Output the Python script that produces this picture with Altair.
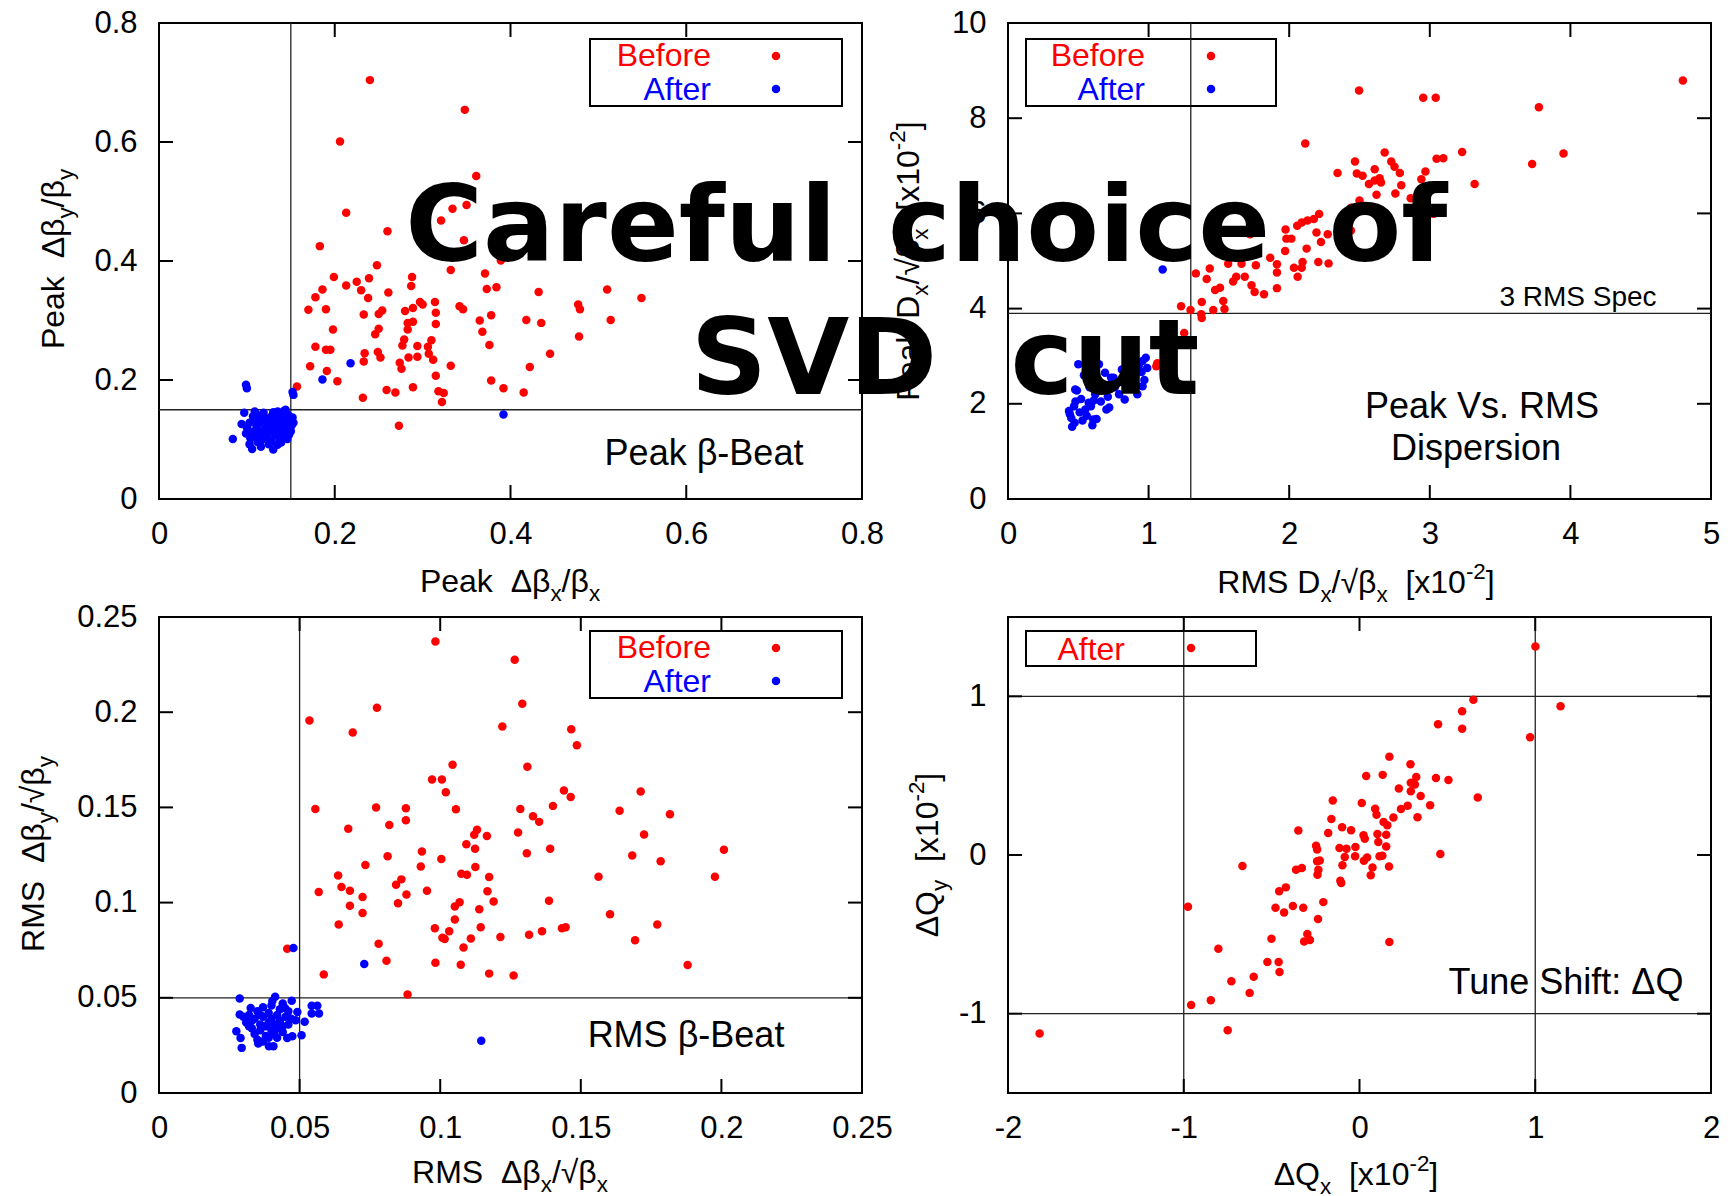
import altair as alt
import pandas as pd

FONT = "Liberation Sans"
HEAVY_FONT = "DejaVu Sans"
RED = "#ff0000"
BLUE = "#0000ff"
W, H = 703, 476          # plot area of each panel
TICK_LEN = 14            # inward tick length (px)
DOT = 72                 # marker area (px^2)

# ---------------- Panel 1: peak beta-beat ----------------
p1_xticks = [0, 0.2, 0.4, 0.6, 0.8]
p1_yticks = [0, 0.2, 0.4, 0.6, 0.8]
p1_before = [
    (0.240, 0.704), (0.348, 0.654), (0.206, 0.601), (0.361, 0.543), (0.213, 0.481),
    (0.350, 0.494), (0.334, 0.488), (0.321, 0.468), (0.260, 0.450), (0.347, 0.435),
    (0.183, 0.425), (0.248, 0.393), (0.389, 0.401), (0.332, 0.385), (0.199, 0.373),
    (0.239, 0.371), (0.288, 0.373), (0.225, 0.365), (0.213, 0.359), (0.287, 0.358),
    (0.371, 0.379), (0.230, 0.351), (0.186, 0.352), (0.261, 0.347), (0.373, 0.353),
    (0.384, 0.356), (0.178, 0.339), (0.238, 0.338), (0.297, 0.331), (0.300, 0.327),
    (0.314, 0.331), (0.170, 0.318), (0.190, 0.319), (0.289, 0.321), (0.280, 0.316),
    (0.233, 0.310), (0.250, 0.311), (0.254, 0.317), (0.342, 0.324), (0.346, 0.319),
    (0.315, 0.313), (0.378, 0.309), (0.365, 0.300), (0.315, 0.294), (0.289, 0.298),
    (0.283, 0.296), (0.283, 0.285), (0.198, 0.285), (0.250, 0.286), (0.246, 0.277),
    (0.368, 0.281), (0.279, 0.268), (0.310, 0.267), (0.277, 0.258), (0.178, 0.256),
    (0.190, 0.251), (0.195, 0.251), (0.294, 0.257), (0.306, 0.256), (0.376, 0.259),
    (0.234, 0.245), (0.249, 0.247), (0.307, 0.244), (0.252, 0.238), (0.284, 0.238),
    (0.294, 0.239), (0.312, 0.234), (0.233, 0.231), (0.274, 0.229), (0.172, 0.223),
    (0.332, 0.224), (0.276, 0.219), (0.191, 0.215), (0.315, 0.207), (0.203, 0.198),
    (0.378, 0.199), (0.157, 0.189), (0.289, 0.188), (0.392, 0.186), (0.259, 0.183),
    (0.269, 0.179), (0.318, 0.181), (0.324, 0.178), (0.322, 0.163), (0.232, 0.170),
    (0.273, 0.123), (0.323, 0.415), (0.415, 0.179), (0.422, 0.222), (0.445, 0.244),
    (0.478, 0.273), (0.418, 0.301), (0.435, 0.296), (0.514, 0.301), (0.432, 0.348),
    (0.477, 0.327), (0.479, 0.319), (0.510, 0.352), (0.549, 0.338),
]
p1_after = [
    (0.084, 0.101), (0.099, 0.192), (0.100, 0.186), (0.152, 0.180), (0.153, 0.175),
    (0.186, 0.201), (0.218, 0.228), (0.392, 0.142), (0.097, 0.145), (0.094, 0.126),
    (0.106, 0.084), (0.130, 0.083), (0.135, 0.091), (0.103, 0.092), (0.118, 0.142),
    (0.148, 0.108), (0.151, 0.131), (0.142, 0.148), (0.135, 0.147), (0.107, 0.139),
    (0.100, 0.120), (0.103, 0.128), (0.105, 0.113), (0.108, 0.133), (0.110, 0.105),
    (0.111, 0.122), (0.113, 0.116), (0.115, 0.128), (0.117, 0.099), (0.118, 0.110),
    (0.120, 0.134), (0.121, 0.119), (0.123, 0.104), (0.124, 0.126), (0.126, 0.113),
    (0.127, 0.138), (0.128, 0.097), (0.129, 0.121), (0.131, 0.130), (0.132, 0.108),
    (0.133, 0.142), (0.134, 0.117), (0.136, 0.125), (0.137, 0.101), (0.138, 0.134),
    (0.139, 0.112), (0.140, 0.144), (0.141, 0.120), (0.142, 0.129), (0.143, 0.106),
    (0.144, 0.137), (0.145, 0.116), (0.146, 0.126), (0.147, 0.141), (0.148, 0.121),
    (0.149, 0.133), (0.150, 0.114), (0.151, 0.124), (0.152, 0.137), (0.099, 0.110),
    (0.104, 0.102), (0.112, 0.096), (0.116, 0.088), (0.125, 0.092), (0.119, 0.145),
    (0.113, 0.140), (0.109, 0.147), (0.146, 0.101), (0.139, 0.095), (0.153, 0.128),
    (0.144, 0.150), (0.130, 0.146),
]

# ---------------- Panel 2: peak vs. RMS dispersion ----------------
p2_xticks = [0, 1, 2, 3, 4, 5]
p2_yticks = [0, 2, 4, 6, 8, 10]
p2_before = [
    (4.80, 8.79), (2.497, 8.58), (2.953, 8.43), (3.042, 8.43), (3.776, 8.23),
    (2.114, 7.47), (2.679, 7.28), (3.230, 7.29), (3.951, 7.26), (3.048, 7.15),
    (3.096, 7.16), (2.468, 7.09), (2.726, 7.09), (2.749, 6.98), (3.728, 7.04),
    (2.608, 6.93), (2.969, 6.88), (2.344, 6.85), (2.481, 6.84), (2.522, 6.79),
    (2.787, 6.85), (2.643, 6.74), (2.608, 6.69), (2.940, 6.72), (2.567, 6.62),
    (2.653, 6.65), (2.797, 6.59), (3.319, 6.62), (2.755, 6.42), (2.621, 6.39),
    (2.500, 6.27), (2.864, 6.32), (3.026, 5.99), (2.417, 5.78), (2.439, 5.64),
    (2.213, 5.99), (2.175, 5.88), (2.130, 5.85), (2.089, 5.81), (2.057, 5.74),
    (1.974, 5.66), (1.722, 5.56), (2.194, 5.60), (2.274, 5.56), (1.980, 5.47),
    (2.015, 5.47), (2.226, 5.40), (1.865, 5.07), (2.124, 5.26), (1.971, 5.21),
    (1.763, 4.91), (1.913, 4.93), (1.913, 4.76), (2.095, 4.98), (2.089, 4.86),
    (2.060, 4.67), (2.207, 4.98), (2.280, 4.95), (2.034, 4.86), (1.661, 4.94),
    (1.566, 4.94), (1.623, 4.67), (1.684, 4.67), (1.435, 4.84), (1.336, 4.74),
    (1.413, 4.62), (1.732, 4.49), (1.754, 4.35), (1.821, 4.30), (1.913, 4.43),
    (1.601, 4.57), (1.508, 4.44), (1.473, 4.39), (1.378, 4.14), (1.531, 4.16),
    (1.460, 3.97), (1.540, 3.99), (1.231, 4.05), (1.298, 3.97), (1.374, 3.88),
    (1.378, 3.80), (1.253, 3.49), (1.062, 2.85), (1.055, 2.79), (2.440, 6.12),
]
p2_after = [
    (1.100, 4.82), (0.456, 1.52), (0.474, 1.60), (0.500, 2.83), (0.647, 2.83),
    (0.434, 1.85), (0.606, 1.67), (0.700, 1.88), (0.830, 2.09), (0.957, 2.37),
    (0.957, 2.90), (0.980, 2.97), (0.877, 2.55), (0.733, 2.55), (0.478, 2.30),
    (0.574, 2.02), (0.845, 2.72), (0.810, 2.72), (0.750, 2.55), (0.610, 2.07),
    (0.490, 2.28), (0.580, 2.35), (0.880, 2.51), (0.950, 2.67), (0.720, 1.92),
    (0.630, 1.68), (0.510, 1.82), (0.450, 1.70), (0.470, 1.95), (0.520, 2.10),
    (0.550, 1.88), (0.560, 1.75), (0.590, 1.95), (0.620, 2.20), (0.660, 2.05),
    (0.680, 2.30), (0.710, 2.15), (0.760, 2.35), (0.790, 2.20), (0.820, 2.45),
    (0.860, 2.35), (0.900, 2.60), (0.930, 2.80), (0.970, 2.50), (0.990, 2.75),
    (0.530, 1.65), (0.480, 2.05), (0.440, 1.78), (0.570, 2.45), (0.640, 2.50),
    (0.690, 2.65), (0.920, 2.20), (0.850, 2.85), (0.540, 2.60), (0.600, 1.55),
]

# ---------------- Panel 3: RMS beta-beat ----------------
p3_xticks = [0, 0.05, 0.1, 0.15, 0.2, 0.25]
p3_yticks = [0, 0.05, 0.1, 0.15, 0.2, 0.25]
p3_before = [
    (0.0983, 0.2371), (0.1265, 0.2275), (0.1292, 0.2045), (0.0775, 0.2023), (0.0535, 0.1957),
    (0.0689, 0.1893), (0.1221, 0.1925), (0.1466, 0.1911), (0.1486, 0.1826), (0.1044, 0.1724),
    (0.1310, 0.1714), (0.0971, 0.1647), (0.1006, 0.1647), (0.1020, 0.1579), (0.1440, 0.1589),
    (0.1464, 0.1555), (0.1713, 0.1583), (0.0556, 0.1492), (0.0772, 0.1500), (0.0878, 0.1496),
    (0.1056, 0.1490), (0.1285, 0.1492), (0.1401, 0.1508), (0.1638, 0.1482), (0.1817, 0.1464),
    (0.0878, 0.1432), (0.1330, 0.1454), (0.1352, 0.1424), (0.0673, 0.1388), (0.0819, 0.1408),
    (0.1131, 0.1382), (0.1121, 0.1356), (0.1166, 0.1350), (0.1277, 0.1368), (0.1725, 0.1358),
    (0.1093, 0.1307), (0.1124, 0.1283), (0.1391, 0.1283), (0.2009, 0.1277), (0.0935, 0.1269),
    (0.0813, 0.1243), (0.1004, 0.1229), (0.1308, 0.1259), (0.1683, 0.1247), (0.1784, 0.1217),
    (0.0734, 0.1197), (0.0931, 0.1189), (0.1125, 0.1187), (0.1075, 0.1152), (0.1095, 0.1146),
    (0.1174, 0.1134), (0.0637, 0.1142), (0.1563, 0.1136), (0.1977, 0.1136), (0.0862, 0.1122),
    (0.0843, 0.1094), (0.0649, 0.1082), (0.0568, 0.1056), (0.0679, 0.1062), (0.0953, 0.1062),
    (0.0880, 0.1042), (0.1168, 0.1060), (0.0724, 0.1030), (0.1190, 0.1006), (0.1387, 0.1010),
    (0.0850, 0.0996), (0.0679, 0.0983), (0.1069, 0.1002), (0.1052, 0.0980), (0.1139, 0.0965),
    (0.0724, 0.0945), (0.1604, 0.0939), (0.1052, 0.0911), (0.1772, 0.0885), (0.0639, 0.0885),
    (0.0981, 0.0865), (0.1144, 0.0871), (0.1446, 0.0871), (0.1433, 0.0865), (0.1362, 0.0849),
    (0.1316, 0.0831), (0.1032, 0.0849), (0.1008, 0.0815), (0.1016, 0.0809), (0.1109, 0.0811),
    (0.1214, 0.0819), (0.1693, 0.0802), (0.0781, 0.0784), (0.1083, 0.0764), (0.0456, 0.0758),
    (0.0809, 0.0694), (0.0983, 0.0684), (0.1073, 0.0674), (0.1880, 0.0672), (0.0586, 0.0623),
    (0.1174, 0.0627), (0.1261, 0.0617), (0.0884, 0.0517),
]
p3_after = [
    (0.0478, 0.0762), (0.0730, 0.0678), (0.1146, 0.0274), (0.0287, 0.0496), (0.0413, 0.0505),
    (0.0403, 0.0483), (0.0472, 0.0484), (0.0448, 0.0447), (0.0492, 0.0426), (0.0543, 0.0458),
    (0.0563, 0.0458), (0.0543, 0.0417), (0.0569, 0.0417), (0.0518, 0.0374), (0.0507, 0.0303),
    (0.0474, 0.0298), (0.0456, 0.0289), (0.0275, 0.0324), (0.0290, 0.0289), (0.0294, 0.0237),
    (0.0353, 0.0260), (0.0391, 0.0246), (0.0407, 0.0246), (0.0326, 0.0447), (0.0287, 0.0412),
    (0.0486, 0.0382), (0.0310, 0.0370), (0.0320, 0.0410), (0.0330, 0.0340), (0.0340, 0.0390),
    (0.0340, 0.0310), (0.0350, 0.0430), (0.0360, 0.0360), (0.0360, 0.0330), (0.0370, 0.0400),
    (0.0380, 0.0350), (0.0380, 0.0300), (0.0390, 0.0420), (0.0390, 0.0370), (0.0400, 0.0330),
    (0.0400, 0.0390), (0.0410, 0.0360), (0.0410, 0.0310), (0.0420, 0.0410), (0.0420, 0.0340),
    (0.0430, 0.0380), (0.0430, 0.0440), (0.0440, 0.0350), (0.0440, 0.0320), (0.0450, 0.0400),
    (0.0460, 0.0360), (0.0350, 0.0280), (0.0370, 0.0270), (0.0330, 0.0380), (0.0300, 0.0400),
    (0.0470, 0.0390), (0.0460, 0.0430), (0.0370, 0.0450), (0.0400, 0.0460), (0.0440, 0.0470),
    (0.0320, 0.0350), (0.0360, 0.0410), (0.0390, 0.0290), (0.0420, 0.0290),
]

# ---------------- Panel 4: tune shift ----------------
p4_xticks = [-2, -1, 0, 1, 2]
p4_yticks = [-1, 0, 1]
p4_after = [
    (1.001, 1.314), (0.648, 0.978), (1.144, 0.938), (0.584, 0.906), (0.447, 0.824),
    (0.584, 0.795), (0.971, 0.742), (0.170, 0.620), (0.290, 0.572), (0.038, 0.498),
    (0.132, 0.505), (0.323, 0.492), (0.435, 0.486), (0.506, 0.473), (0.292, 0.456),
    (0.315, 0.444), (0.224, 0.419), (0.292, 0.402), (0.348, 0.372), (0.673, 0.362),
    (-0.152, 0.343), (0.013, 0.328), (0.402, 0.313), (0.274, 0.311), (0.236, 0.290),
    (0.089, 0.292), (0.097, 0.254), (0.193, 0.236), (0.330, 0.238), (-0.160, 0.227),
    (0.137, 0.208), (0.158, 0.187), (-0.099, 0.175), (-0.048, 0.156), (-0.348, 0.154),
    (-0.178, 0.139), (0.023, 0.124), (0.030, 0.103), (0.102, 0.132), (0.152, 0.128),
    (0.107, 0.082), (-0.247, 0.059), (-0.241, 0.034), (-0.114, 0.044), (-0.074, 0.040),
    (-0.023, 0.050), (0.152, 0.053), (-0.084, -0.013), (-0.025, -0.008), (0.043, -0.015),
    (0.025, -0.036), (0.114, -0.008), (0.130, -0.004), (-0.241, -0.040), (-0.226, -0.034),
    (-0.239, -0.124), (-0.234, -0.093), (-0.097, -0.065), (0.074, -0.078), (0.168, -0.072),
    (0.064, -0.128), (-0.361, -0.093), (-0.328, -0.082), (0.460, 0.006), (-0.666, -0.069),
    (-0.109, -0.162), (-0.104, -0.177), (-0.419, -0.204), (-0.457, -0.229), (-0.206, -0.297),
    (-0.976, -0.326), (-0.478, -0.332), (-0.379, -0.322), (-0.320, -0.332), (-0.429, -0.362),
    (-0.236, -0.404), (-0.297, -0.498), (-0.315, -0.545), (-0.282, -0.536), (0.170, -0.549),
    (-0.501, -0.528), (-0.803, -0.591), (-0.524, -0.675), (-0.460, -0.675), (-0.455, -0.738),
    (-0.602, -0.768), (-0.729, -0.795), (-0.625, -0.869), (-0.846, -0.915), (-0.958, -0.946),
    (-0.750, -1.104), (-1.820, -1.125),
]

# Approximate advance widths (em) of Liberation Sans, used to lay out
# axis titles that mix normal text with sub/superscripts.
NBSP = "\u00a0"
ADV = {
    "P": .667, "e": .556, "a": .556, "k": .5, " ": .278, NBSP: .278, "Δ": .667,
    "β": .575, "x": .5, "y": .5, "/": .278, "R": .722, "M": .833, "S": .667,
    "D": .722, "√": .549, "[": .278, "]": .278, "1": .556, "0": .556, "-": .333,
    "2": .556, "Q": .778,
}


def run_width(txt, fs):
    return sum(ADV.get(c, 0.55) for c in txt) * fs


def title_rows(parts, cx, cy, size, rotated):
    """Place the pieces of a title; (cx, cy) = centre along the baseline."""
    items, pos = [], 0.0
    for txt, kind in parts:
        fs = size * (0.7 if kind != "n" else 1.0)
        shift = {"n": 0.0, "sub": 0.28 * size, "sup": -0.45 * size}[kind]
        body = txt.strip(" ")
        lead = len(txt) - len(txt.lstrip(" "))
        trail = len(txt) - len(txt.rstrip(" "))
        pos += run_width(" " * lead, fs)          # leading gap, no glyphs drawn
        body = body.replace(" ", NBSP)              # keep inner runs of spaces
        items.append((body, fs, pos, shift))
        pos += run_width(body, fs) + run_width(" " * trail, fs)
    start = -pos / 2
    rows = []
    for txt, fs, p, sh in items:
        if rotated:
            rows.append({"t": txt, "px": cx + sh, "py": cy - (start + p), "fs": fs, "ang": 270})
        else:
            rows.append({"t": txt, "px": cx + start + p, "py": cy + sh, "fs": fs, "ang": 0})
    return rows


def to_df(pairs):
    return pd.DataFrame(pairs, columns=["x", "y"])


ONE = pd.DataFrame({"k": [0]})
TITLE_FS = 32


def make_panel(xdom, ydom, xticks, yticks, vlines, hlines, series, legend,
               notes, xtitle, ytitle, extra=()):
    xs = alt.Scale(domain=xdom, nice=False, zero=False)
    ys = alt.Scale(domain=ydom, nice=False, zero=False)
    xax = alt.Axis(values=xticks, labelExpr="'' + datum.value", title=None)
    yax = alt.Axis(values=yticks, labelExpr="'' + datum.value", title=None)

    def X(f):
        return alt.X(f, type="quantitative", scale=xs, axis=xax)

    def Y(f):
        return alt.Y(f, type="quantitative", scale=ys, axis=yax)

    layers = []
    # reference lines
    layers.append(alt.Chart(pd.DataFrame({"v": vlines})).mark_rule(
        color="#222222", strokeWidth=1.3).encode(x=X("v"), y=alt.value(0), y2=alt.value(H)))
    layers.append(alt.Chart(pd.DataFrame({"h": hlines})).mark_rule(
        color="#222222", strokeWidth=1.3).encode(y=Y("h"), x=alt.value(0), x2=alt.value(W)))
    # data
    for pairs, color in series:
        layers.append(alt.Chart(to_df(pairs)).mark_circle(
            size=DOT, opacity=1, color=color).encode(x=X("x"), y=Y("y")))
    # inward ticks on all four sides
    xt = pd.DataFrame({"t": xticks})
    yt = pd.DataFrame({"t": yticks})
    tick = dict(color="black", strokeWidth=2)
    layers.append(alt.Chart(xt).mark_rule(**tick).encode(
        x=X("t"), y=alt.value(H - TICK_LEN), y2=alt.value(H)))
    layers.append(alt.Chart(xt).mark_rule(**tick).encode(
        x=X("t"), y=alt.value(0), y2=alt.value(TICK_LEN)))
    layers.append(alt.Chart(yt).mark_rule(**tick).encode(
        y=Y("t"), x=alt.value(0), x2=alt.value(TICK_LEN)))
    layers.append(alt.Chart(yt).mark_rule(**tick).encode(
        y=Y("t"), x=alt.value(W - TICK_LEN), x2=alt.value(W)))
    # key box
    (bx1, by1, bx2, by2), text_right, marker_x, entries = legend
    layers.append(alt.Chart(ONE).mark_rect(
        fillOpacity=0, stroke="black", strokeWidth=2).encode(
        x=alt.value(bx1), x2=alt.value(bx2), y=alt.value(by1), y2=alt.value(by2)))
    for label, color, ty, my in entries:
        layers.append(alt.Chart(ONE).mark_text(
            font=FONT, fontSize=32, align="right", baseline="alphabetic", color=color).encode(
            x=alt.value(text_right), y=alt.value(ty), text=alt.value(label)))
        layers.append(alt.Chart(ONE).mark_circle(size=DOT, opacity=1, color=color).encode(
            x=alt.value(marker_x), y=alt.value(my)))
    # in-plot notes
    for txt, cx, by, fs in notes:
        layers.append(alt.Chart(ONE).mark_text(
            font=FONT, fontSize=fs, align="center", baseline="alphabetic", color="black").encode(
            x=alt.value(cx), y=alt.value(by), text=alt.value(txt)))
    # axis titles with sub/superscripts
    rows = title_rows(xtitle[0], xtitle[1], xtitle[2], TITLE_FS, False) + \
        title_rows(ytitle[0], ytitle[1], ytitle[2], TITLE_FS, True)
    layers.append(alt.Chart(pd.DataFrame(rows)).mark_text(
        font=FONT, align="left", baseline="alphabetic", color="black").encode(
        x=alt.X("px:Q", scale=None), y=alt.Y("py:Q", scale=None),
        text="t:N", size=alt.Size("fs:Q", scale=None),
        angle=alt.Angle("ang:Q", scale=None)))
    layers.extend(extra)
    return alt.layer(*layers).properties(width=W, height=H)


def two_keys(bx1, bx2, tr, mx, top):
    return ((bx1, top, bx2, top + 67), tr, mx,
            [("Before", RED, top + 27, top + 17), ("After", BLUE, top + 61, top + 50)])


# invisible anchor that fixes the page origin relative to the first panel
anchor = alt.Chart(ONE).mark_rect(opacity=0).encode(
    x=alt.value(-158), x2=alt.value(-157), y=alt.value(-22), y2=alt.value(-21))

# large headline drawn on top of the upper row (word by word)
headline_words = [
    ("Careful", -387, 238), ("choice", 71, 238), ("of", 380, 238),
    ("SVD", -194, 371), ("cut", 97, 371),
]
headline = [
    alt.Chart(ONE).mark_text(font=HEAVY_FONT, fontWeight="bold", fontSize=106,
                             align="center", baseline="alphabetic", color="black").encode(
        x=alt.value(cx), y=alt.value(by), text=alt.value(word))
    for word, cx, by in headline_words
]

p1 = make_panel(
    [0, 0.8], [0, 0.8], p1_xticks, p1_yticks, [0.15], [0.15],
    [(p1_before, RED), (p1_after, BLUE)],
    two_keys(431, 683, 552, 617, 16),
    [("Peak β-Beat", 545, 442, 36)],
    ([("Peak  Δβ", "n"), ("x", "sub"), ("/β", "n"), ("x", "sub")], 351, 569),
    ([("Peak  Δβ", "n"), ("y", "sub"), ("/β", "n"), ("y", "sub")], -95, 236),
    extra=[anchor],
)

p2 = make_panel(
    [0, 5], [0, 10], p2_xticks, p2_yticks, [1.3], [3.9],
    [(p2_before, RED), (p2_after, BLUE)],
    two_keys(18, 268, 137, 203, 16),
    [("3 RMS Spec", 570, 283, 28), ("Peak Vs. RMS", 474, 395, 36), ("Dispersion", 468, 437, 36)],
    ([("RMS D", "n"), ("x", "sub"), ("/√β", "n"), ("x", "sub"), ("  [x10", "n"),
      ("-2", "sup"), ("]", "n")], 348, 570),
    ([("Peak D", "n"), ("x", "sub"), ("/√β", "n"), ("x", "sub"), ("  [x10", "n"),
      ("-2", "sup"), ("]", "n")], -89, 238),
    extra=headline,
)

p3 = make_panel(
    [0, 0.25], [0, 0.25], p3_xticks, p3_yticks, [0.05], [0.05],
    [(p3_before, RED), (p3_after, BLUE)],
    two_keys(431, 683, 552, 617, 14),
    [("RMS β-Beat", 527, 430, 36)],
    ([("RMS  Δβ", "n"), ("x", "sub"), ("/√β", "n"), ("x", "sub")], 351, 566),
    ([("RMS  Δβ", "n"), ("y", "sub"), ("/√β", "n"), ("y", "sub")], -115, 237),
)

p4 = make_panel(
    [-2, 2], [-1.5, 1.5], p4_xticks, p4_yticks, [-1, 1], [-1, 1],
    [(p4_after, RED)],
    ((18, 14, 248, 49), 117, 183, [("After", RED, 43, 31)]),
    [("Tune Shift: ΔQ", 558, 377, 36)],
    ([("ΔQ", "n"), ("x", "sub"), ("  [x10", "n"), ("-2", "sup"), ("]", "n")], 348, 568),
    ([("ΔQ", "n"), ("y", "sub"), ("  [x10", "n"), ("-2", "sup"), ("]", "n")], -70, 238),
)

chart = alt.concat(
    p1, p2, p3, p4, columns=2, spacing={"row": 118, "column": 146}, bounds="flush"
).configure(
    background="white", padding=0
).configure_view(
    stroke="black", strokeWidth=2
).configure_axis(
    domain=False, ticks=False, tickSize=0, grid=False, labelFont=FONT, labelFontSize=31,
    labelColor="black", labelFlush=False, labelOverlap=False
).configure_axisX(
    labelPadding=20
).configure_axisY(
    labelPadding=22
)

chart.save("out.html", embed_options={"renderer": "svg", "actions": False})
